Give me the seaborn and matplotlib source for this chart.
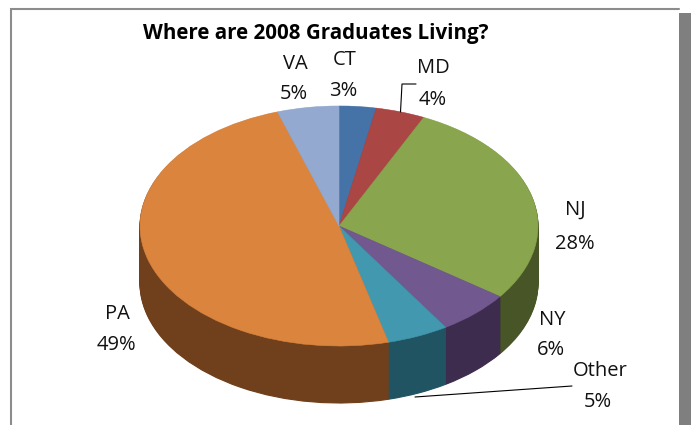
import matplotlib
matplotlib.use('Agg')
import matplotlib.pyplot as plt
from matplotlib.patches import Rectangle
import seaborn as sns

# values
states = ['CT', 'MD', 'NJ', 'NY', 'Other', 'PA', 'VA']
shares = [3, 4, 28, 6, 5, 49, 5]
top_colors = ['#4572a7', '#aa4643', '#89a54e', '#71588f', '#4198af', '#db843d', '#93a9cf']
side_colors = ['#2f4d72', '#742f2d', '#475527', '#3d2c4e', '#215462', '#70401d', '#64738d']
title = 'Where are 2008 Graduates Living?'

W, H = 691, 425
CX, CY = 339, 226
RX, RY = 199, 120
DEPTH = 57
squash = RX / RY

sns.set_theme(style='white')
plt.rcParams['font.family'] = ['Open Sans', 'DejaVu Sans']

fig = plt.figure(figsize=(W / 100, H / 100), dpi=100)
ax = fig.add_axes([0, 0, 1, 1])


def py(y):
    # pixel row -> data y, the pie is a circle in data units and gets squashed by the axes
    return (H - y) * squash


def draw_layer(colors, row, lw):
    wedges, _ = ax.pie(shares, colors=colors, startangle=90, counterclock=False,
                       radius=RX, center=(CX, py(row)), frame=False)
    for w in wedges:
        w.set_edgecolor(w.get_facecolor())
        w.set_linewidth(lw)


# side wall first, stacked from the bottom up
for d in range(DEPTH, 0, -1):
    draw_layer(side_colors, CY + d, 0.8)
draw_layer(top_colors, CY, 0.4)

ax.set_aspect('auto')
ax.set_xlim(0, W)
ax.set_ylim(0, H * squash)
ax.axis('off')

# frame and the grey shadow
fig.patches.append(Rectangle((679 / W, 0), 12 / W, (H - 13) / H, transform=fig.transFigure,
                             color='#7f7f7f', lw=0))
ax.plot([11, 11, 679], [py(H), py(9), py(9)], color='#8c8c8c', lw=1.5, solid_joinstyle='miter')

# leader lines
ax.plot([400.5, 402, 416], [py(112), py(84), py(84)], color='black', lw=0.8)
ax.plot([415, 572], [py(397), py(386)], color='black', lw=0.8)

ax.text(316, py(33), title, ha='center', va='center', fontsize=14.8, fontweight='bold', color='black')

label_xy = {
    'CT': (345, 60, 343, 91),
    'MD': (433, 68, 433, 100),
    'NJ': (575, 210, 575, 244),
    'NY': (552, 320, 551, 350),
    'Other': (600, 371, 598, 402),
    'PA': (117, 314, 116, 345),
    'VA': (295, 64, 294, 94),
}
for name, val in zip(states, shares):
    x1, y1, x2, y2 = label_xy[name]
    ax.text(x1, py(y1), name, ha='center', va='center', fontsize=14.5, color='#111111')
    ax.text(x2, py(y2), f'{val}%', ha='center', va='center', fontsize=14.5, color='#111111')

fig.savefig('out.png', dpi=100)
